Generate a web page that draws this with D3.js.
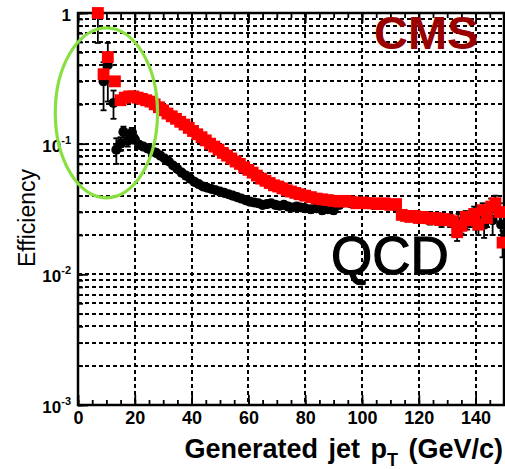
<!DOCTYPE html>
<html>
<head>
<meta charset="utf-8">
<script src="https://cdnjs.cloudflare.com/ajax/libs/d3/7.8.5/d3.min.js"></script>
<style>
  body { margin: 0; background: #fff; }
  text { font-family: "Liberation Sans", Arial, Helvetica, sans-serif; }
</style>
</head>
<body>
<div id="chart"></div>
<script>
// black points (circles)
var ptBlack = [7, 9, 10.5, 12.5, 13.5, 15, 16, 17.5, 19, 20, 21.5, 23, 24.5, 26, 27.5, 29, 30.5, 32, 33.5, 35,
    36.5, 38, 39.5, 41, 42.5, 44, 45.5, 47, 48.5, 50, 51.5, 53, 54.5, 56, 57.5, 59, 60.5, 62, 63.5, 65,
    66.5, 68, 69.5, 71, 72.5, 74, 75.5, 77, 78.5, 80, 82, 84, 86, 88, 90, 92, 96, 100, 104, 108,
    112, 116, 120, 124, 128, 131, 134, 137, 140, 143, 146, 149];
var effBlack = [1.0, 0.30, 0.40, 0.205, 0.09, 0.10, 0.123, 0.105, 0.122, 0.108, 0.098, 0.095, 0.092, 0.088, 0.085, 0.081, 0.077, 0.073, 0.068, 0.064,
    0.060, 0.057, 0.054, 0.051, 0.049, 0.047, 0.046, 0.045, 0.044, 0.043, 0.042, 0.041, 0.040, 0.039, 0.038, 0.037, 0.036, 0.0355, 0.035, 0.034,
    0.0345, 0.035, 0.034, 0.0335, 0.034, 0.033, 0.0325, 0.033, 0.0325, 0.032, 0.0315, 0.032, 0.031, 0.0315, 0.031, 0.034, 0.035, 0.035, 0.034, 0.034,
    0.033, 0.028, 0.027, 0.027, 0.026, 0.026, 0.025, 0.026, 0.027, 0.024, 0.026, 0.024];
var errBlack = [0.41, 0.12, 0.19, 0.05, 0.02, 0.012, 0.012, 0.01, 0.01, 0.008, 0.006, 0.005, 0.005, 0.004, 0.004, 0.003, 0.003, 0.003, 0.003, 0.003,
    0.002, 0.002, 0.002, 0.002, 0.002, 0.002, 0.002, 0.002, 0.002, 0.002, 0.002, 0.002, 0.002, 0.002, 0.002, 0.002, 0.002, 0.002, 0.002, 0.002,
    0.002, 0.002, 0.002, 0.002, 0.002, 0.002, 0.002, 0.002, 0.002, 0.002, 0.002, 0.002, 0.002, 0.002, 0.002, 0.002, 0.002, 0.002, 0.002, 0.002,
    0.002, 0.002, 0.002, 0.003, 0.003, 0.003, 0.004, 0.004, 0.005, 0.005, 0.006, 0.006];

// red points (squares)
var ptRed = [7, 9, 10.5, 13, 15, 16.5, 18, 19.5, 21, 22.5, 24, 25.5, 27, 28.5, 30, 31.5, 33, 34.5, 36, 37.5,
    39, 40.5, 42, 43.5, 45, 46.5, 48, 49.5, 51, 52.5, 54, 55.5, 57, 58.5, 60, 61.5, 63, 64.5, 66, 67.5,
    69, 70.5, 72, 73.5, 75, 76.5, 78, 80, 82, 84, 86, 88, 90, 92, 94, 96, 98, 100, 102, 104,
    106, 108, 110, 112, 114, 115.5, 117, 118.5, 120, 121.5, 123, 124.5, 126, 127.5, 129, 130.5, 132, 133.5, 135, 136.5,
    138, 139.5, 141, 142.5, 144, 145.5, 147, 148.5, 149.5];
var effRed = [1.0, 0.34, 0.46, 0.30, 0.215, 0.225, 0.23, 0.23, 0.225, 0.22, 0.215, 0.21, 0.20, 0.19, 0.18, 0.17, 0.162, 0.155, 0.147, 0.14,
    0.132, 0.125, 0.118, 0.112, 0.106, 0.10, 0.095, 0.09, 0.085, 0.081, 0.077, 0.073, 0.07, 0.066, 0.063, 0.06, 0.057, 0.054, 0.052, 0.05,
    0.048, 0.047, 0.0455, 0.044, 0.043, 0.042, 0.041, 0.040, 0.039, 0.038, 0.0375, 0.037, 0.0365, 0.036, 0.0365, 0.036, 0.035, 0.0355, 0.035, 0.035,
    0.0345, 0.035, 0.034, 0.0345, 0.0285, 0.028, 0.0275, 0.028, 0.027, 0.0275, 0.027, 0.0265, 0.027, 0.026, 0.0265, 0.026, 0.0255, 0.021, 0.0235, 0.0275,
    0.026, 0.029, 0.024, 0.031, 0.027, 0.033, 0.035, 0.03, 0.0175];
var errRed = [0, 0, 0, 0, 0, 0, 0, 0, 0, 0, 0, 0, 0, 0, 0, 0, 0, 0, 0, 0,
    0, 0, 0, 0, 0, 0, 0, 0, 0, 0, 0, 0, 0, 0, 0, 0, 0, 0, 0, 0,
    0, 0, 0, 0, 0, 0, 0, 0, 0, 0, 0, 0, 0, 0, 0, 0, 0, 0, 0, 0,
    0, 0, 0, 0, 0.002, 0.002, 0.002, 0.002, 0.002, 0.002, 0.002, 0.002, 0.002, 0.002, 0.002, 0.002, 0.002, 0.003, 0.003, 0.003,
    0.003, 0.004, 0.004, 0.004, 0.004, 0.005, 0.005, 0.005, 0.004];

// axis ticks
var xMajor = [0, 20, 40, 60, 80, 100, 120, 140];
var yMajor = [1e-3, 1e-2, 1e-1, 1];
var yLabels = [["10", "-3"], ["10", "-2"], ["10", "-1"], ["1", ""]];

// green ring around the low pT points (pT range, efficiency range)
var ringPt = [-8, 28];
var ringEff = [0.0385, 0.77];

var W = 505, H = 469;
var margin = { top: 13, right: 1, bottom: 64, left: 78 },
    width = W - margin.left - margin.right,
    height = H - margin.top - margin.bottom;

var x = d3.scaleLinear().domain([0, 150]).range([margin.left, margin.left + width]);
var y = d3.scaleLog().domain([1e-3, 1]).range([margin.top + height, margin.top]);

var svg = d3.select('#chart').append('svg')
    .attr('width', W)
    .attr('height', H);

svg.append('rect').attr('width', W).attr('height', H).attr('fill', '#fff');

// grid
var grid = svg.append('g').attr('class', 'grid')
    .attr('stroke', '#000')
    .attr('stroke-width', 2)
    .attr('stroke-dasharray', '4,3');

grid.selectAll('line.h')
    .data(y.ticks().filter(function (d) { return d > 1.001e-3 && d < 0.999; }))
    .enter().append('line')
    .attr('x1', x(0)).attr('x2', x(150))
    .attr('y1', function (d) { return Math.round(y(d)); })
    .attr('y2', function (d) { return Math.round(y(d)); });

grid.selectAll('line.v')
    .data(xMajor.filter(function (d) { return d > 0; }))
    .enter().append('line')
    .attr('y1', y(1)).attr('y2', y(1e-3))
    .attr('x1', function (d) { return Math.round(x(d)); })
    .attr('x2', function (d) { return Math.round(x(d)); });

// axes
var xMinor = d3.range(0, 151, 5);

svg.append('g')
    .attr('class', 'x axis')
    .attr('transform', 'translate(0,' + y(1e-3) + ')')
    .call(d3.axisBottom(x).tickValues(xMinor).tickSize(-5).tickFormat(''));

var xAxis = svg.append('g')
    .attr('class', 'x axis')
    .attr('transform', 'translate(0,' + y(1e-3) + ')')
    .call(d3.axisBottom(x).tickValues(xMajor).tickSize(-10).tickPadding(5).tickFormat(d3.format('d')));

svg.append('g')
    .attr('transform', 'translate(0,' + y(1) + ')')
    .call(d3.axisTop(x).tickValues(xMinor).tickSize(-5).tickFormat(''));
svg.append('g')
    .attr('transform', 'translate(0,' + y(1) + ')')
    .call(d3.axisTop(x).tickValues(xMajor).tickSize(-10).tickFormat(''));

svg.append('g')
    .attr('transform', 'translate(' + x(0) + ',0)')
    .call(d3.axisLeft(y).tickValues(y.ticks()).tickSize(-5).tickFormat(''));

var yAxis = svg.append('g')
    .attr('class', 'y axis')
    .attr('transform', 'translate(' + x(0) + ',0)')
    .call(d3.axisLeft(y).tickValues(yMajor).tickSize(-10).tickPadding(7).tickFormat(''));

svg.selectAll('.domain').remove();
svg.selectAll('.tick line').attr('stroke', '#000').attr('stroke-width', 1.8);

xAxis.selectAll('.tick text')
    .attr('fill', '#000')
    .attr('font-size', 18)
    .attr('font-weight', 'bold')
    .attr('font-family', '"Liberation Sans", Arial, sans-serif')
    .attr('dy', '0.8em');

yAxis.selectAll('.tick text').each(function (d, i) {
    var t = d3.select(this)
        .attr('fill', '#000')
        .attr('font-size', 17)
        .attr('font-weight', 'bold')
        .attr('font-family', '"Liberation Sans", Arial, sans-serif')
        .attr('dy', '0.45em');
    t.append('tspan').text(yLabels[i][0]);
    if (yLabels[i][1]) {
        t.append('tspan').attr('font-size', 11).attr('dy', '-0.75em').text(yLabels[i][1]);
    }
});

// frame
svg.append('rect')
    .attr('x', x(0)).attr('y', y(1))
    .attr('width', x(150) - x(0)).attr('height', y(1e-3) - y(1))
    .attr('fill', 'none')
    .attr('stroke', '#000')
    .attr('stroke-width', 2.5);

// series
function drawSeries(pt, eff, err, color, symbol, size) {
    var data = pt.map(function (d, i) { return { pt: d, eff: eff[i], err: err[i] }; });
    var g = svg.append('g').attr('class', 'series');

    var bars = g.selectAll('g.err')
        .data(data.filter(function (d) { return d.err > 0; }))
        .enter().append('g')
        .attr('stroke', '#000')
        .attr('stroke-width', 1.8);
    bars.append('line')
        .attr('x1', function (d) { return x(d.pt); })
        .attr('x2', function (d) { return x(d.pt); })
        .attr('y1', function (d) { return y(Math.min(1, d.eff + d.err)); })
        .attr('y2', function (d) { return y(Math.max(1.1e-3, d.eff - d.err)); });
    bars.append('line')
        .attr('x1', function (d) { return x(d.pt) - 3; })
        .attr('x2', function (d) { return x(d.pt) + 3; })
        .attr('y1', function (d) { return y(Math.max(1.1e-3, d.eff - d.err)); })
        .attr('y2', function (d) { return y(Math.max(1.1e-3, d.eff - d.err)); });
    bars.append('line')
        .attr('x1', function (d) { return x(d.pt) - 3; })
        .attr('x2', function (d) { return x(d.pt) + 3; })
        .attr('y1', function (d) { return y(Math.min(1, d.eff + d.err)); })
        .attr('y2', function (d) { return y(Math.min(1, d.eff + d.err)); });

    g.selectAll('path.pt')
        .data(data)
        .enter().append('path')
        .attr('transform', function (d) { return 'translate(' + x(d.pt) + ',' + y(d.eff) + ')'; })
        .attr('d', d3.symbol().type(symbol).size(size))
        .attr('fill', color);
}

drawSeries(ptBlack, effBlack, errBlack, '#000', d3.symbolCircle, 80);
drawSeries(ptRed, effRed, errRed, '#ff0000', d3.symbolSquare, 140);

// green ring
svg.append('ellipse')
    .attr('cx', (x(ringPt[0]) + x(ringPt[1])) / 2)
    .attr('cy', (y(ringEff[0]) + y(ringEff[1])) / 2)
    .attr('rx', (x(ringPt[1]) - x(ringPt[0])) / 2)
    .attr('ry', (y(ringEff[0]) - y(ringEff[1])) / 2)
    .attr('fill', 'none')
    .attr('stroke', '#88e040')
    .attr('stroke-width', 3.2);

// labels
svg.append('text')
    .attr('x', 374).attr('y', 49)
    .attr('font-size', 47)
    .attr('font-weight', 'bold')
    .attr('fill', '#990000')
    .text('CMS');

svg.append('text')
    .attr('x', 331).attr('y', 274)
    .attr('font-size', 53)
    .attr('fill', '#000')
    .attr('stroke', '#000')
    .attr('stroke-width', 1.2)
    .text('QCD');

svg.append('text')
    .attr('transform', 'translate(35,218) rotate(-90)')
    .attr('text-anchor', 'middle')
    .attr('font-size', 23)
    .attr('fill', '#000')
    .text('Efficiency');

var xt = svg.append('text')
    .attr('x', 503).attr('y', 458)
    .attr('text-anchor', 'end')
    .attr('font-size', 27)
    .attr('font-weight', 'bold')
    .attr('word-spacing', 3)
    .attr('fill', '#000');
xt.append('tspan').text('Generated jet p');
xt.append('tspan').attr('font-size', 18).attr('dy', 8).text('T');
xt.append('tspan').attr('dy', -8).text(' (GeV/c)');
</script>
</body>
</html>
